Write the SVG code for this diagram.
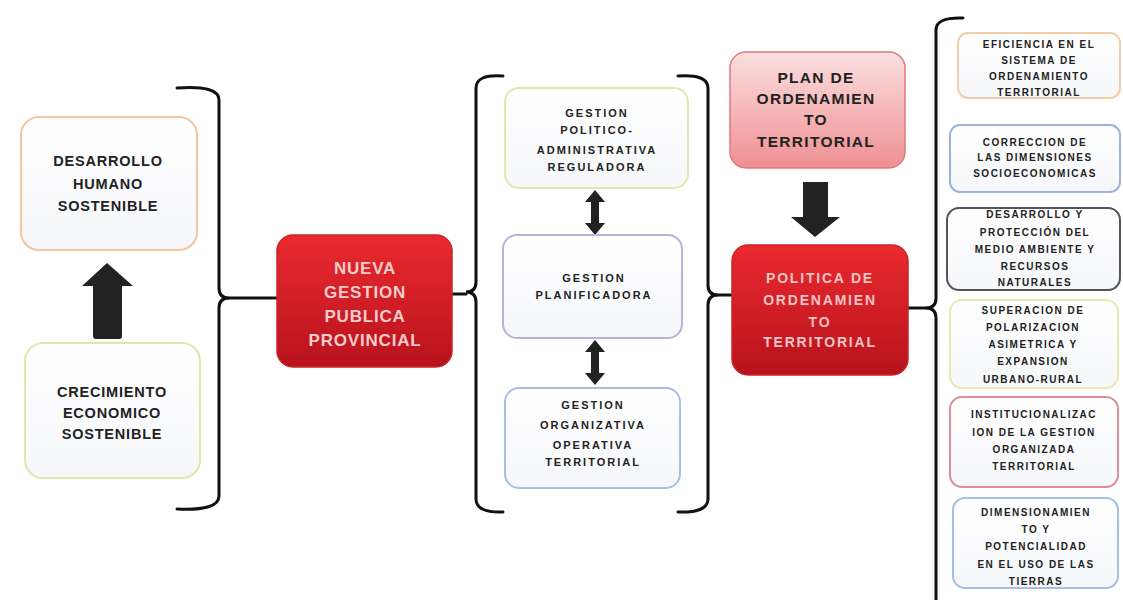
<svg xmlns="http://www.w3.org/2000/svg" width="1123" height="600" viewBox="0 0 1123 600">
<defs>
<linearGradient id="red" x1="0" y1="0" x2="0" y2="1"><stop offset="0" stop-color="#ea2a30"/><stop offset="1" stop-color="#b8121c"/></linearGradient>
<linearGradient id="pink" x1="0" y1="0" x2="0" y2="1"><stop offset="0" stop-color="#fbe0e0"/><stop offset="1" stop-color="#ef8f92"/></linearGradient>
<linearGradient id="wh" x1="0" y1="0" x2="0" y2="1"><stop offset="0" stop-color="#ffffff"/><stop offset="1" stop-color="#f6f7fa"/></linearGradient>
<style>
.box{fill:url(#wh);stroke-width:2}
.t{font-family:"Liberation Sans",Arial,sans-serif;font-weight:bold;text-anchor:middle;fill:#222}
.l{font-size:14.5px;letter-spacing:0.8px}
.m{font-size:11px;letter-spacing:2px}
.s{font-size:10px;letter-spacing:1.5px}
.w{fill:#f9cccc;font-size:17px;letter-spacing:0.8px}
.w2{fill:#f9c4c4;font-size:14px;letter-spacing:1.8px}
.p{font-size:15.5px;letter-spacing:1.3px}
.br{fill:none;stroke:#111;stroke-width:3;stroke-linecap:round}
.ar{fill:#222}
</style>
</defs>

<g id="connectors">
<path class="br" d="M177,88 Q219,85 219,100 V288 Q219,298 229,298 Q219,298 219,308 V496 Q219,511 177,509"/>
<path class="br" d="M229,298 H277"/>
<path class="br" d="M503,76 Q476,74 476,88 V282 Q476,292 466,292 Q476,292 476,302 V499 Q476,513 503,512"/>
<path class="br" d="M452,294 H466"/>
<path class="br" d="M678,76 Q708,74 708,88 V285 Q708,295 718,295 Q708,295 708,305 V499 Q708,513 678,512"/>
<path class="br" d="M718,295 H733"/>
<path class="br" d="M963,18 Q936,17 936,30 V298 Q936,308 926,308 Q936,308 936,318 V600"/>
<path class="br" d="M908,308 H926"/>
<path class="ar" d="M82,286 L107,263 L133,286 L122,286 L122,336 Q122,339 119,339 L96,339 Q93,339 93,336 L93,286 Z"/>
<path class="ar" d="M803,182 H828 V217 H840 L815,237 L791,217 H803 Z"/>
<path class="ar" d="M595,190 L605,202 L599,202 L599,223 L605,223 L595,235 L585,223 L591,223 L591,202 L585,202 Z"/>
<path class="ar" d="M595,340 L605,352 L599,352 L599,373 L605,373 L595,385 L585,373 L591,373 L591,352 L585,352 Z"/>
</g>

<g id="desarrollo">
<rect class="box" x="21" y="117" width="176" height="133" rx="18" stroke="#f3c6a0"/>
<text class="t l" x="108" y="166">DESARROLLO</text>
<text class="t l" x="108" y="189">HUMANO</text>
<text class="t l" x="108" y="211">SOSTENIBLE</text>
</g>
<g id="crecimiento">
<rect class="box" x="25" y="343" width="175" height="135" rx="18" stroke="#dfe6b0"/>
<text class="t l" x="112" y="397">CRECIMIENTO</text>
<text class="t l" x="112" y="418">ECONOMICO</text>
<text class="t l" x="112" y="439">SOSTENIBLE</text>
</g>

<g id="nueva">
<rect x="277" y="235" width="175" height="132" rx="16" fill="url(#red)" stroke="#c9242b" stroke-width="1.5"/>
<text class="t w" x="365" y="274">NUEVA</text>
<text class="t w" x="365" y="298">GESTION</text>
<text class="t w" x="365" y="322">PUBLICA</text>
<text class="t w" x="365" y="346">PROVINCIAL</text>
</g>

<g id="politico">
<rect class="box" x="505" y="88" width="183" height="100" rx="14" stroke="#e2e7ae"/>
<text class="t m" x="597" y="117">GESTION</text>
<text class="t m" x="597" y="134">POLITICO-</text>
<text class="t m" x="597" y="154">ADMINISTRATIVA</text>
<text class="t m" x="597" y="171">REGULADORA</text>
</g>
<g id="planificadora">
<rect class="box" x="503" y="235" width="179" height="103" rx="14" stroke="#c0aed8"/>
<text class="t m" x="594" y="282">GESTION</text>
<text class="t m" x="594" y="299">PLANIFICADORA</text>
</g>
<g id="organizativa">
<rect class="box" x="505" y="388" width="175" height="100" rx="14" stroke="#a9bfe2"/>
<text class="t m" x="593" y="409">GESTION</text>
<text class="t m" x="593" y="429">ORGANIZATIVA</text>
<text class="t m" x="593" y="449">OPERATIVA</text>
<text class="t m" x="593" y="466">TERRITORIAL</text>
</g>

<g id="plan">
<rect x="730" y="52" width="175" height="116" rx="16" fill="url(#pink)" stroke="#e07a80" stroke-width="1.5"/>
<text class="t p" x="816" y="83">PLAN DE</text>
<text class="t p" x="816" y="104">ORDENAMIEN</text>
<text class="t p" x="816" y="125">TO</text>
<text class="t p" x="816" y="147">TERRITORIAL</text>
</g>
<g id="politica">
<rect x="732" y="245" width="176" height="130" rx="16" fill="url(#red)" stroke="#c9242b" stroke-width="1.5"/>
<text class="t w2" x="820" y="283">POLITICA  DE</text>
<text class="t w2" x="820" y="305">ORDENAMIEN</text>
<text class="t w2" x="820" y="327">TO</text>
<text class="t w2" x="820" y="347">TERRITORIAL</text>
</g>

<g id="eficiencia">
<rect class="box" x="958" y="33" width="162" height="65" rx="10" stroke="#f2cda6"/>
<text class="t s" x="1039" y="48">EFICIENCIA EN EL</text>
<text class="t s" x="1039" y="64">SISTEMA  DE</text>
<text class="t s" x="1039" y="80">ORDENAMIENTO</text>
<text class="t s" x="1039" y="96">TERRITORIAL</text>
</g>
<g id="correccion">
<rect class="box" x="950" y="125" width="170" height="67" rx="10" stroke="#9bb3de"/>
<text class="t s" x="1035" y="146">CORRECCION DE</text>
<text class="t s" x="1035" y="161">LAS DIMENSIONES</text>
<text class="t s" x="1035" y="177">SOCIOECONOMICAS</text>
</g>
<g id="medio">
<rect class="box" x="947" y="208" width="173" height="82" rx="12" stroke="#555"/>
<text class="t s" x="1035" y="218">DESARROLLO  Y</text>
<text class="t s" x="1035" y="236">PROTECCIÓN  DEL</text>
<text class="t s" x="1035" y="253">MEDIO  AMBIENTE  Y</text>
<text class="t s" x="1035" y="270">RECURSOS</text>
<text class="t s" x="1035" y="286">NATURALES</text>
</g>
<g id="superacion">
<rect class="box" x="950" y="300" width="168" height="88" rx="12" stroke="#e9e9b4"/>
<text class="t s" x="1033" y="314">SUPERACION  DE</text>
<text class="t s" x="1033" y="331">POLARIZACION</text>
<text class="t s" x="1033" y="348">ASIMETRICA  Y</text>
<text class="t s" x="1033" y="365">EXPANSION</text>
<text class="t s" x="1033" y="383">URBANO-RURAL</text>
</g>
<g id="institucional">
<rect class="box" x="950" y="397" width="168" height="90" rx="12" stroke="#dc8f99"/>
<text class="t s" x="1034" y="418">INSTITUCIONALIZAC</text>
<text class="t s" x="1034" y="436">ION DE LA GESTION</text>
<text class="t s" x="1034" y="453">ORGANIZADA</text>
<text class="t s" x="1034" y="470">TERRITORIAL</text>
</g>
<g id="dimensionamiento">
<rect class="box" x="953" y="498" width="165" height="90" rx="12" stroke="#a3bfe3"/>
<text class="t s" x="1036" y="516">DIMENSIONAMIEN</text>
<text class="t s" x="1036" y="533">TO  Y</text>
<text class="t s" x="1036" y="550">POTENCIALIDAD</text>
<text class="t s" x="1036" y="568">EN EL USO DE LAS</text>
<text class="t s" x="1036" y="585">TIERRAS</text>
</g>
</svg>
